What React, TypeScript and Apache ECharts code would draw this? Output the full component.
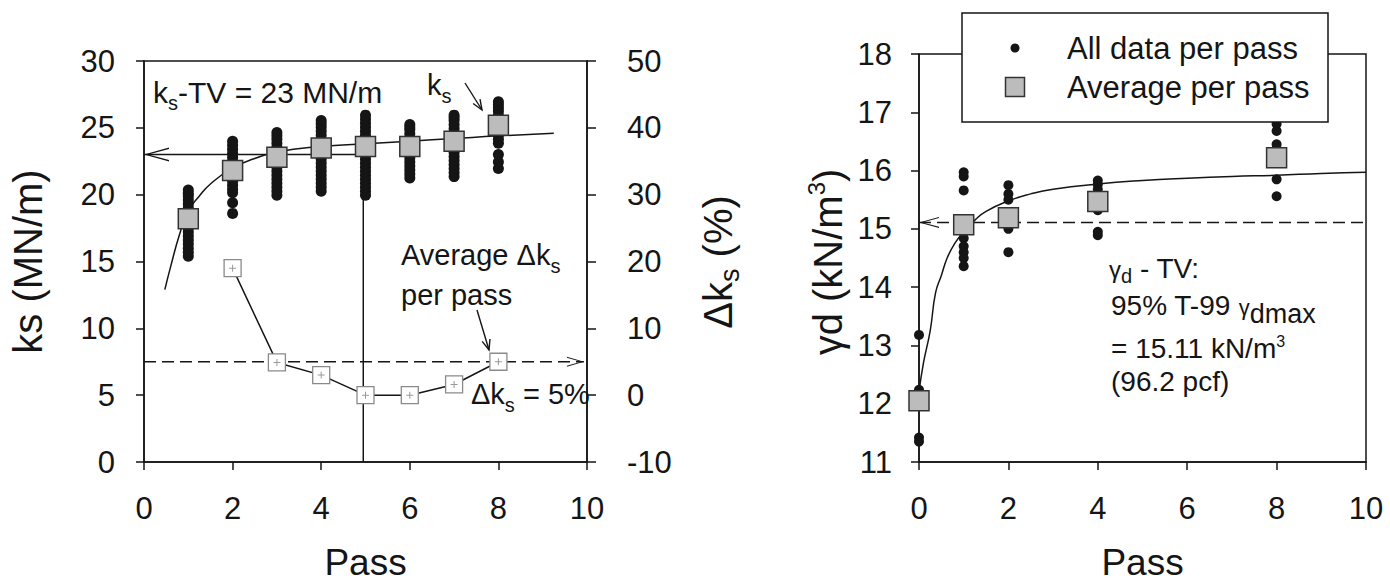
import React, { useEffect, useRef } from "react";
import * as echarts from "echarts";

const FONT = "'Liberation Sans', Arial, Helvetica, sans-serif";
const INK = "#151515";

// ---- Left panel: plate-load modulus ks per pass ----
const ksPasses = [1, 2, 3, 4, 5, 6, 7, 8];
const ksPass1 = [15.4, 15.7, 16.0, 16.3, 16.6, 16.9, 17.2, 17.5, 17.8, 18.1, 18.4, 18.7, 19.0, 19.3, 19.6, 19.9, 20.1, 20.35];
const ksPass2 = [18.6, 19.4, 20.15, 20.4, 20.7, 21.0, 21.3, 21.6, 21.9, 22.2, 22.5, 22.8, 23.1, 23.4, 23.7, 24.0];
const ksPass3 = [19.95, 20.25, 20.55, 20.85, 21.15, 21.45, 21.75, 22.05, 22.35, 22.65, 22.95, 23.25, 23.55, 23.85, 24.15, 24.4, 24.65];
const ksPass4 = [20.25, 20.55, 20.85, 21.15, 21.45, 21.75, 22.05, 22.35, 22.65, 22.95, 23.25, 23.55, 23.85, 24.15, 24.45, 24.75, 25.05, 25.3, 25.55];
const ksPass5 = [19.95, 20.25, 20.55, 20.85, 21.15, 21.45, 21.75, 22.05, 22.35, 22.65, 22.95, 23.25, 23.55, 23.85, 24.15, 24.45, 24.75, 25.05, 25.35, 25.65, 25.95];
const ksPass6 = [21.25, 21.55, 21.85, 22.15, 22.45, 22.75, 23.05, 23.35, 23.65, 23.95, 24.25, 24.55, 24.85, 25.05, 25.25];
const ksPass7 = [21.35, 21.65, 21.95, 22.25, 22.55, 22.85, 23.15, 23.45, 23.75, 24.05, 24.35, 24.65, 24.95, 25.25, 25.55, 25.75, 25.95];
const ksPass8 = [21.95, 22.45, 23.0, 23.85, 24.15, 24.45, 24.75, 25.05, 25.35, 25.65, 25.95, 26.25, 26.5, 26.75, 26.95];
const ksAll = [ksPass1, ksPass2, ksPass3, ksPass4, ksPass5, ksPass6, ksPass7, ksPass8];
const ksAverage = [18.2, 21.8, 22.8, 23.5, 23.6, 23.6, 24.0, 25.2];
const ksFitPass = [0.47, 0.6, 0.8, 1, 1.25, 1.5, 2, 2.5, 3, 4, 5, 6, 7, 8, 9.25];
const ksFitValue = [12.9, 14.6, 17.0, 18.8, 19.9, 20.8, 22.0, 22.7, 23.2, 23.6, 23.8, 24.0, 24.2, 24.4, 24.6];
const ksTarget = 23;
const ksTargetPass = 4.95;

const dkPasses = [2, 3, 4, 5, 6, 7, 8];
const dkValues = [19.0, 4.9, 3.0, 0.0, 0.0, 1.6, 5.0];
const dkTarget = 5;
const dkLineEnd = 9.93;

// ---- Right panel: dry unit weight per pass ----
const gdPasses = [0, 1, 2, 4, 8];
const gdPass0 = [13.18, 12.24, 11.42, 11.35];
const gdPass1 = [15.97, 15.9, 15.66, 14.84, 14.7, 14.6, 14.5, 14.36];
const gdPass2 = [15.75, 15.6, 15.5, 15.0, 14.6];
const gdPass4 = [15.83, 15.76, 15.68, 15.32, 14.95, 14.89];
const gdPass8 = [16.8, 16.68, 16.45, 16.38, 15.85, 15.56];
const gdAll = [gdPass0, gdPass1, gdPass2, gdPass4, gdPass8];
const gdAverage = [12.05, 15.07, 15.19, 15.47, 16.22];
const gdFitPass = [0, 0.1, 0.25, 0.37, 0.5, 0.63, 0.8, 1.0, 1.25, 1.5, 2.0, 2.5, 3.0, 4.0, 5.0, 6.0, 7.0, 8.0, 9.0, 10.0];
const gdFitValue = [12.2, 12.7, 13.25, 13.9, 14.2, 14.5, 14.75, 14.95, 15.15, 15.3, 15.48, 15.6, 15.68, 15.77, 15.83, 15.87, 15.9, 15.92, 15.95, 15.97];
const gdTarget = 15.11;
const gdLineEnd = 10.2;

const xTicks = { min: 0, max: 10, interval: 2 };

// open chevron heads for the reference lines
const chevronLeft = "path://M24,0 L0,7 L24,14 L24,12.5 L4.2,7 L24,1.5 Z";
const chevronRight = "path://M0,0 L24,7 L0,14 L0,12.5 L19.8,7 L0,1.5 Z";
const plusMark = "path://M3,0 H4 V3 H7 V4 H4 V7 H3 V4 H0 V3 H3 Z";

const lineW = 1.5;

// ---- text helpers: runs of differently sized pieces sharing a baseline ----
let measureCtx: CanvasRenderingContext2D | null = null;
function textWidth(t: string, size: number) {
  if (!measureCtx) measureCtx = document.createElement("canvas").getContext("2d");
  if (!measureCtx) return t.length * size * 0.55;
  measureCtx.font = `${size}px ${FONT}`;
  return measureCtx.measureText(t).width;
}

type Part = { t: string; size: number; dy?: number };

// x, y = start of the baseline (or its middle when centred); dy shifts a piece down
function run(x: number, y: number, parts: Part[], opts: { rotation?: number; center?: boolean; z?: number } = {}) {
  const z = opts.z ?? 20;
  const widths = parts.map((p) => textWidth(p.t, p.size));
  const total = widths.reduce((a, b) => a + b, 0);
  let cx = opts.center ? -total / 2 : 0;
  const children = parts.map((p, i) => {
    const el = {
      type: "text",
      x: cx,
      y: (p.dy ?? 0) - 0.3465 * p.size,
      z,
      style: { text: p.t, fontSize: p.size, fontFamily: FONT, fill: INK, verticalAlign: "middle", align: "left" },
    };
    cx += widths[i];
    return el;
  });
  return { type: "group", x, y, rotation: opts.rotation ?? 0, z, children };
}

function xAxisFor(gridIndex: number) {
  return {
    gridIndex,
    type: "value",
    ...xTicks,
    name: "Pass",
    nameLocation: "middle",
    nameGap: 82,
    nameTextStyle: { fontSize: 37, color: INK, fontFamily: FONT },
    axisLine: { onZero: false, lineStyle: { color: INK, width: lineW } },
    axisTick: { inside: false, length: 8, lineStyle: { color: INK, width: lineW } },
    axisLabel: { fontSize: 31, color: INK, fontFamily: FONT, margin: 31 },
    splitLine: { show: false },
  };
}

function arrow(x1: number, y1: number, x2: number, y2: number) {
  const a = Math.atan2(y2 - y1, x2 - x1);
  const h = 11;
  const s = 0.38;
  return [
    { type: "line", shape: { x1, y1, x2, y2 }, style: { stroke: INK, lineWidth: 1.4 }, z: 20 },
    {
      type: "polyline",
      shape: {
        points: [
          [x2 - h * Math.cos(a - s), y2 - h * Math.sin(a - s)],
          [x2, y2],
          [x2 - h * Math.cos(a + s), y2 - h * Math.sin(a + s)],
        ],
      },
      style: { stroke: INK, fill: null, lineWidth: 1.4 },
      z: 20,
    },
  ];
}

export default function App() {
  const ref = useRef<HTMLDivElement>(null);

  useEffect(() => {
    const chart = echarts.init(ref.current!, null, { renderer: "svg" });

    const ksDots = ksAll.flatMap((vals, i) => vals.map((v) => [ksPasses[i], v]));
    const gdDots = gdAll.flatMap((vals, i) => vals.map((v) => [gdPasses[i], v]));

    const dotStyle = { color: INK, opacity: 1 };
    const squareStyle = { color: "#bcbcbc", borderColor: "#333", borderWidth: 1.5, opacity: 1 };
    const upright = Math.PI / 2;

    const option: any = {
      animation: false,
      backgroundColor: "#ffffff",
      grid: [
        { left: 144, top: 61, width: 443, height: 401, show: true, borderColor: INK, borderWidth: lineW, backgroundColor: "transparent" },
        { left: 919, top: 54, width: 447, height: 408, show: true, borderColor: INK, borderWidth: lineW, backgroundColor: "transparent" },
      ],
      xAxis: [xAxisFor(0), xAxisFor(1)],
      yAxis: [
        {
          gridIndex: 0,
          type: "value",
          min: 0,
          max: 30,
          interval: 5,
          position: "left",
          name: "ks (MN/m)",
          nameLocation: "middle",
          nameRotate: 90,
          nameGap: 96,
          nameTextStyle: { fontSize: 40, color: INK, fontFamily: FONT },
          axisLine: { show: true, lineStyle: { color: INK, width: lineW } },
          axisTick: { show: true, length: 8, lineStyle: { color: INK, width: lineW } },
          axisLabel: { fontSize: 31, color: INK, fontFamily: FONT, margin: 29 },
          splitLine: { show: false },
        },
        {
          gridIndex: 0,
          type: "value",
          min: -10,
          max: 50,
          interval: 10,
          position: "right",
          axisLine: { show: true, lineStyle: { color: INK, width: lineW } },
          axisTick: { show: true, length: 9, lineStyle: { color: INK, width: lineW } },
          axisLabel: { fontSize: 31, color: INK, fontFamily: FONT, margin: 40, align: "left" },
          splitLine: { show: false },
        },
        {
          gridIndex: 1,
          type: "value",
          min: 11,
          max: 18,
          interval: 1,
          position: "left",
          axisLine: { show: true, lineStyle: { color: INK, width: lineW } },
          axisTick: { show: true, length: 8, lineStyle: { color: INK, width: lineW } },
          axisLabel: { fontSize: 31, color: INK, fontFamily: FONT, margin: 27 },
          splitLine: { show: false },
        },
      ],
      series: [
        // left panel
        {
          name: "ks all",
          type: "scatter",
          xAxisIndex: 0,
          yAxisIndex: 0,
          data: ksDots,
          symbol: "circle",
          symbolSize: 11,
          itemStyle: dotStyle,
          z: 2,
        },
        {
          name: "ks fit",
          type: "line",
          xAxisIndex: 0,
          yAxisIndex: 0,
          data: ksFitPass.map((p, i) => [p, ksFitValue[i]]),
          smooth: true,
          showSymbol: false,
          symbol: "none",
          lineStyle: { color: INK, width: 1.5 },
          z: 3,
        },
        {
          name: "ks target",
          type: "line",
          xAxisIndex: 0,
          yAxisIndex: 0,
          data: [
            [0, ksTarget],
            [ksTargetPass, ksTarget],
            [ksTargetPass, 0],
          ],
          symbol: "none",
          lineStyle: { color: INK, width: 1.5 },
          z: 3,
        },
        {
          name: "ks target arrow",
          type: "scatter",
          xAxisIndex: 0,
          yAxisIndex: 0,
          data: [[0, ksTarget]],
          symbol: chevronLeft,
          symbolSize: [25, 14],
          symbolOffset: [12.5, 0],
          itemStyle: dotStyle,
          clip: false,
          z: 4,
        },
        {
          name: "ks average",
          type: "scatter",
          xAxisIndex: 0,
          yAxisIndex: 0,
          data: ksPasses.map((p, i) => [p, ksAverage[i]]),
          symbol: "rect",
          symbolSize: 20,
          itemStyle: squareStyle,
          z: 5,
        },
        {
          name: "dks target",
          type: "line",
          xAxisIndex: 0,
          yAxisIndex: 1,
          data: [
            [0, dkTarget],
            [dkLineEnd, dkTarget],
          ],
          symbol: "none",
          lineStyle: { color: INK, width: 1.5, type: [12, 6] },
          z: 3,
        },
        {
          name: "dks target arrow",
          type: "scatter",
          xAxisIndex: 0,
          yAxisIndex: 1,
          data: [[dkLineEnd, dkTarget]],
          symbol: chevronRight,
          symbolSize: [17, 10],
          symbolOffset: [-8.5, 0],
          itemStyle: dotStyle,
          clip: false,
          z: 4,
        },
        {
          name: "dks per pass",
          type: "line",
          xAxisIndex: 0,
          yAxisIndex: 1,
          data: dkPasses.map((p, i) => [p, dkValues[i]]),
          symbol: "rect",
          symbolSize: 17,
          showAllSymbol: true,
          itemStyle: { color: "#ffffff", borderColor: "#8a8a8a", borderWidth: 1.3 },
          lineStyle: { color: INK, width: 1.5 },
          z: 5,
        },
        {
          name: "dks plus",
          type: "scatter",
          xAxisIndex: 0,
          yAxisIndex: 1,
          data: dkPasses.map((p, i) => [p, dkValues[i]]),
          symbol: plusMark,
          symbolSize: 7,
          itemStyle: { color: "#9a9a9a", opacity: 1 },
          z: 6,
        },
        // right panel
        {
          name: "All data per pass",
          type: "scatter",
          xAxisIndex: 1,
          yAxisIndex: 2,
          data: gdDots,
          symbol: "circle",
          symbolSize: 10,
          itemStyle: dotStyle,
          z: 2,
        },
        {
          name: "gd fit",
          type: "line",
          xAxisIndex: 1,
          yAxisIndex: 2,
          data: gdFitPass.map((p, i) => [p, gdFitValue[i]]),
          smooth: true,
          symbol: "none",
          lineStyle: { color: INK, width: 1.5 },
          z: 3,
        },
        {
          name: "gd target",
          type: "line",
          xAxisIndex: 1,
          yAxisIndex: 2,
          data: [
            [0, gdTarget],
            [gdLineEnd, gdTarget],
          ],
          symbol: "none",
          clip: false,
          lineStyle: { color: INK, width: 1.5, type: [12, 6] },
          z: 3,
        },
        {
          name: "gd target arrow",
          type: "scatter",
          xAxisIndex: 1,
          yAxisIndex: 2,
          data: [[0, gdTarget]],
          symbol: chevronLeft,
          symbolSize: [20, 11],
          symbolOffset: [10, 0],
          itemStyle: dotStyle,
          clip: false,
          z: 4,
        },
        {
          name: "Average per pass",
          type: "scatter",
          xAxisIndex: 1,
          yAxisIndex: 2,
          data: gdPasses.map((p, i) => [p, gdAverage[i]]),
          symbol: "rect",
          symbolSize: 20,
          itemStyle: squareStyle,
          z: 5,
        },
      ],
      graphic: [
        // axis titles with sub/superscripts (rotated to read upwards)
        run(732, 262, [
          { t: "Δk", size: 40 },
          { t: "s", size: 27, dy: 7 },
          { t: " (%)", size: 40 },
        ], { rotation: upright, center: true }),
        run(842, 262, [
          { t: "γd (kN/m", size: 40 },
          { t: "3", size: 24, dy: -17 },
          { t: ")", size: 40 },
        ], { rotation: upright, center: true }),
        // left panel notes
        run(153, 103, [
          { t: "k", size: 30 },
          { t: "s", size: 20, dy: 7 },
          { t: "-TV = 23 MN/m", size: 30 },
        ]),
        run(427, 95, [
          { t: "k", size: 29 },
          { t: "s", size: 20, dy: 8 },
        ]),
        ...arrow(465, 83, 482, 110),
        run(401, 265, [
          { t: "Average Δk", size: 29 },
          { t: "s", size: 20, dy: 8 },
        ]),
        run(401, 305, [{ t: "per pass", size: 29 }]),
        ...arrow(477, 310, 489, 350),
        run(471, 404, [
          { t: "Δk", size: 29 },
          { t: "s", size: 20, dy: 8 },
          { t: " = 5%", size: 29 },
        ]),
        // right panel notes
        run(1109, 278, [
          { t: "γ", size: 24 },
          { t: "d", size: 20, dy: 5 },
          { t: " - TV:", size: 28 },
        ]),
        run(1111, 315, [
          { t: "95% T-99 ", size: 28 },
          { t: "γ", size: 22 },
          { t: "dmax", size: 27, dy: 8 },
        ]),
        run(1111, 358, [
          { t: "= 15.11 kN/m", size: 28 },
          { t: "3", size: 16, dy: -11 },
        ]),
        run(1111, 391, [{ t: "(96.2 pcf)", size: 28 }]),
        // legend
        {
          type: "rect",
          z: 50,
          shape: { x: 962, y: 13, width: 366, height: 109 },
          style: { fill: "#ffffff", stroke: INK, lineWidth: 1.5 },
        },
        { type: "circle", z: 51, shape: { cx: 1015, cy: 48, r: 4.5 }, style: { fill: INK } },
        run(1067, 59, [{ t: "All data per pass", size: 31 }], { z: 51 }),
        {
          type: "rect",
          z: 51,
          shape: { x: 1005.5, y: 77.5, width: 19, height: 19 },
          style: { fill: "#bcbcbc", stroke: "#333", lineWidth: 1.5 },
        },
        run(1067, 98, [{ t: "Average per pass", size: 31 }], { z: 51 }),
      ],
    };

    chart.setOption(option);
    return () => chart.dispose();
  }, []);

  return (
    <div
      ref={ref}
      style={{ position: "fixed", left: 0, top: 0, width: 1390, height: 588, background: "#ffffff" }}
    />
  );
}
